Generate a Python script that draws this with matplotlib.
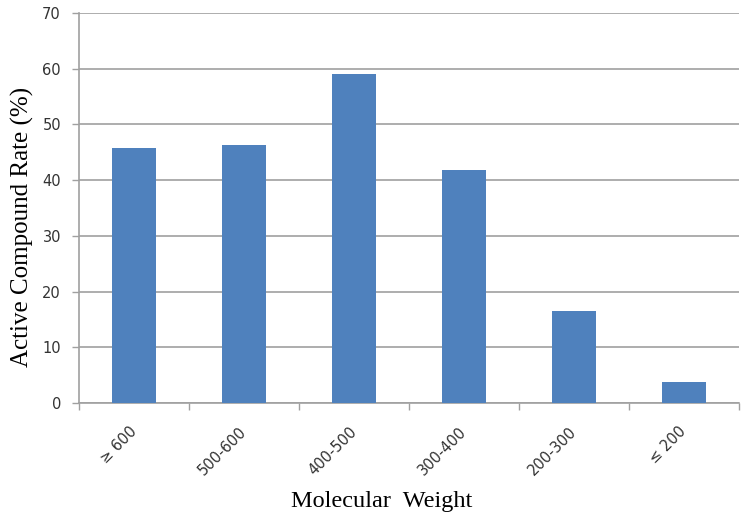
import matplotlib.pyplot as plt
import matplotlib.transforms as mtransforms
import numpy as np

categories = ['≥ 600', '500-600', '400-500', '300-400', '200-300', '≤ 200']
rates = [45.8, 46.3, 59.0, 41.8, 16.6, 3.8]

fig = plt.figure(figsize=(7.42, 5.2), dpi=100)
ax = fig.add_axes([0.1065, 0.225, 0.889, 0.75])

x = np.arange(len(categories))
ax.bar(x, rates, width=0.4, color='#4F81BD', zorder=3)

ax.set_xlim(-0.5, len(categories) - 0.5)
ax.set_ylim(0, 70)
ax.set_yticks(np.arange(0, 71, 10))
ax.yaxis.grid(True, color='#A0A0A0', linewidth=1.2, zorder=0)

# labels at category centres, tick marks at category boundaries
ax.set_xticks(x)
ax.set_xticklabels(categories, rotation=45, ha='right', rotation_mode='anchor',
                   fontsize=10.5, family='DejaVu Sans', color='#333333')
ax.tick_params(axis='x', length=0, pad=15)
shift = mtransforms.ScaledTranslation(-5 / 100, 0, fig.dpi_scale_trans)
for lab in ax.get_xticklabels():
    lab.set_transform(lab.get_transform() + shift)
ax.set_xticks(np.arange(-0.5, len(categories), 1.0), minor=True)
ax.tick_params(axis='x', which='minor', length=5, color='#A0A0A0', width=1)
ax.tick_params(axis='y', length=5, color='#A0A0A0', width=1, labelsize=10.5,
               labelcolor='#333333', pad=8)

for side in ['top', 'right']:
    ax.spines[side].set_visible(False)
for side in ['left', 'bottom']:
    ax.spines[side].set_color('#A0A0A0')
    ax.spines[side].set_linewidth(1.2)

ax.set_xlabel('Molecular  Weight', family='Liberation Serif', fontsize=17.5)
ax.set_ylabel('Active Compound Rate (%)', family='Liberation Serif', fontsize=18)
ax.xaxis.set_label_coords(0.459, -0.225)
ax.yaxis.set_label_coords(-0.069, 0.451)

fig.savefig('out.png', dpi=100)
